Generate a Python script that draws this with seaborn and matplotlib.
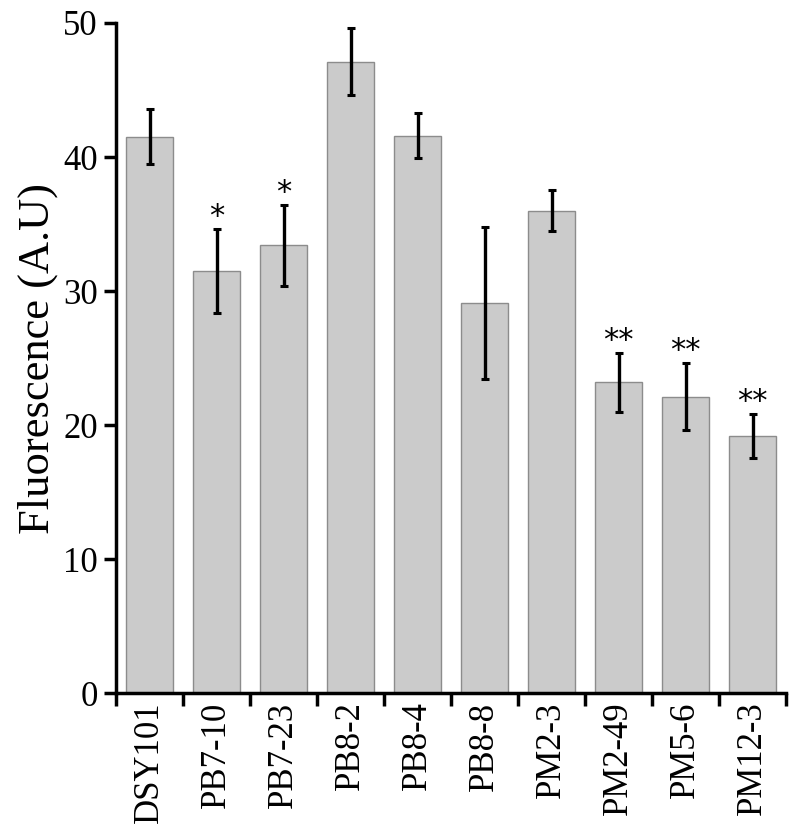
import matplotlib
matplotlib.use("Agg")
import matplotlib.pyplot as plt
import seaborn as sns
import pandas as pd

# strains, mean fluorescence and error
strains = ["DSY101", "PB7-10", "PB7-23", "PB8-2", "PB8-4",
           "PB8-8", "PM2-3", "PM2-49", "PM5-6", "PM12-3"]
fluo = [41.5, 31.5, 33.4, 47.1, 41.6, 29.1, 36.0, 23.2, 22.1, 19.2]
err = [2.05, 3.15, 3.05, 2.5, 1.65, 5.7, 1.55, 2.2, 2.5, 1.65]
stars = ["", "*", "*", "", "", "", "", "**", "**", "**"]

df = pd.DataFrame({"strain": strains, "fluo": fluo, "err": err})

sns.set_style("ticks")
plt.rcParams["font.family"] = ["Liberation Serif", "DejaVu Serif"]
plt.rcParams["text.color"] = "black"
plt.rcParams["axes.labelcolor"] = "black"
plt.rcParams["xtick.color"] = "black"
plt.rcParams["ytick.color"] = "black"

fig = plt.figure(figsize=(8, 8.36), dpi=100)
ax = fig.add_axes([0.145, 0.171, 0.8375, 0.8015])

sns.barplot(data=df, x="strain", y="fluo", color="#cbcbcb", saturation=1,
            width=0.7, edgecolor="#8c8c8c", linewidth=1, errorbar=None, ax=ax)
ax.errorbar(range(len(strains)), df["fluo"], yerr=df["err"], fmt="none",
            ecolor="black", elinewidth=2.4, capsize=3, capthick=2.2)

for i, s in enumerate(stars):
    if s:
        ax.text(i, fluo[i] + err[i] - 0.15, s, ha="center", va="bottom",
                fontsize=22, family="DejaVu Sans")

ax.set_xlim(-0.5, len(strains) - 0.5)
ax.set_ylim(0, 50)
ax.set_yticks([0, 10, 20, 30, 40, 50])
ax.set_xticks(range(len(strains)))
ax.set_xticklabels(strains, rotation=90, fontsize=25)
ax.set_xticks([i - 0.5 for i in range(len(strains) + 1)], minor=True)
ax.tick_params(axis="x", which="major", length=0, pad=6)
ax.tick_params(axis="x", which="minor", length=9, width=2.5, direction="out")
ax.tick_params(axis="y", labelsize=25, length=9, width=2.5, pad=4)
ax.set_xlabel("")
ax.set_ylabel("Fluorescence (A.U)", fontsize=32, labelpad=4)

sns.despine(ax=ax)
for side in ["left", "bottom"]:
    ax.spines[side].set_linewidth(2.5)
    ax.spines[side].set_color("black")

fig.savefig("out.png", dpi=100)
